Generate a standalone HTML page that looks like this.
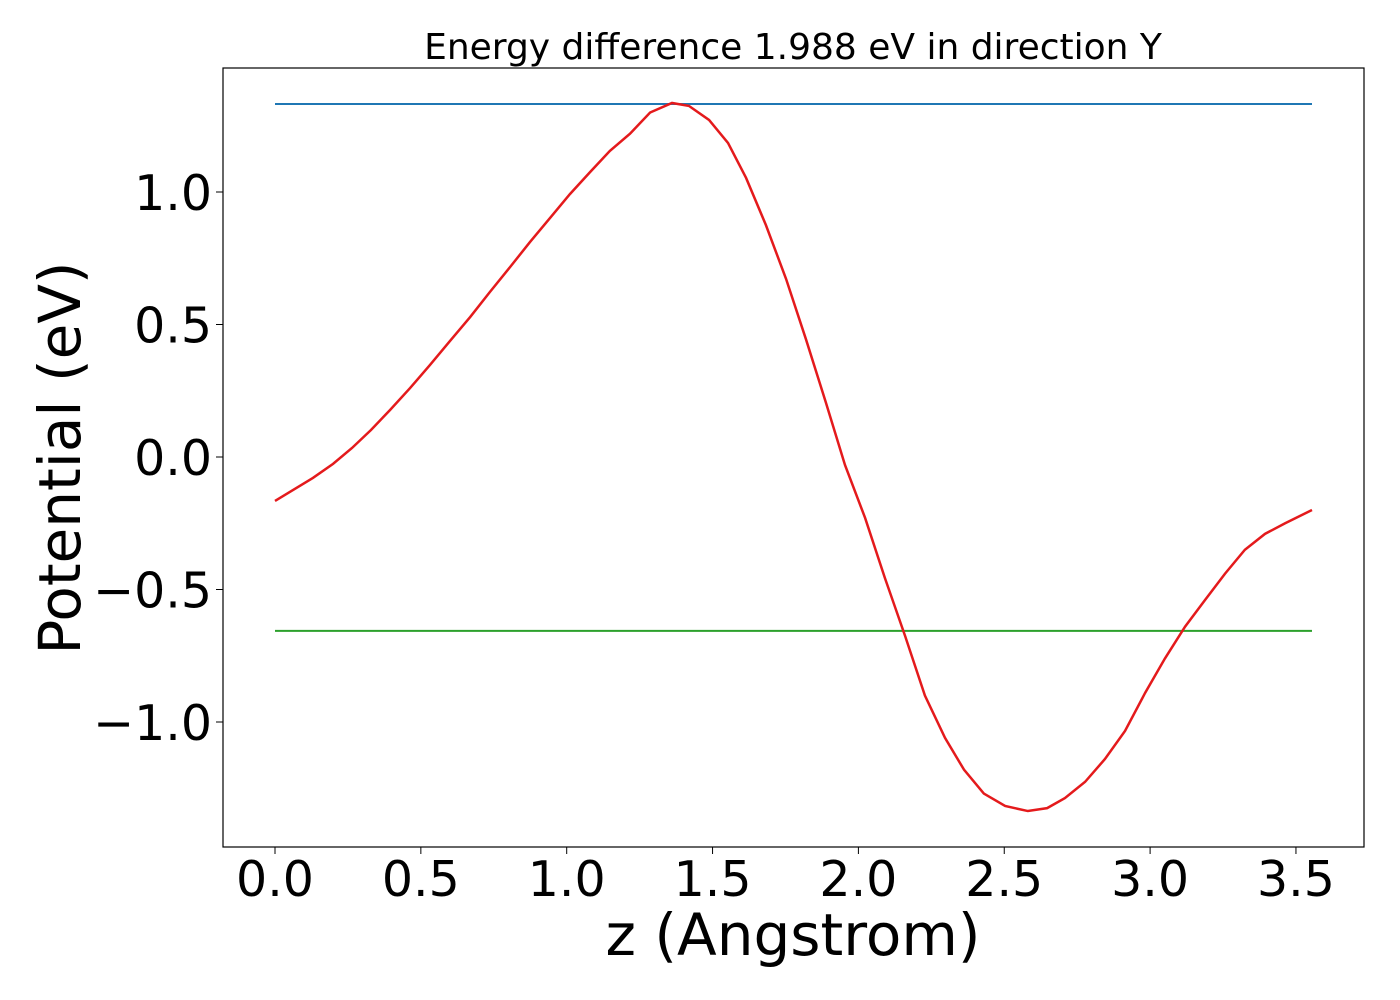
<!DOCTYPE html>
<html><head><meta charset="utf-8"><style>
body{margin:0;background:#fff;}
svg{display:block;font-family:"DejaVu Sans","Liberation Sans",sans-serif;}
</style></head><body>
<svg id="chart" width="1400" height="1000">
<text x="793" y="59" font-size="36" text-anchor="middle">Energy difference 1.988 eV in direction Y</text>
<text x="793" y="955" font-size="58" text-anchor="middle">z (Angstrom)</text>
<text transform="translate(80,458) rotate(-90)" font-size="58" text-anchor="middle">Potential (eV)</text>
<g id="ticks"></g>
<g id="marks"></g>
<rect x="223" y="68" width="1141" height="779" fill="none" stroke="#000" stroke-width="1.2"/>
</svg>
<script>
const xTicks=[0,0.5,1,1.5,2,2.5,3,3.5];
const xTickLabels=["0.0","0.5","1.0","1.5","2.0","2.5","3.0","3.5"];
const yTicks=[1,0.5,0,-0.5,-1];
const yTickLabels=["1.0","0.5","0.0","\u22120.5","\u22121.0"];
const zValues=[0,0.130,0.199,0.264,0.329,0.394,0.463,0.531,0.600,0.669,0.737,0.806,0.874,0.943,1.011,1.080,1.148,1.217,1.286,1.361,1.419,1.488,1.553,1.615,1.683,1.752,1.820,1.889,1.954,2.023,2.091,2.160,2.228,2.297,2.362,2.430,2.503,2.581,2.647,2.708,2.777,2.845,2.914,2.983,3.051,3.120,3.188,3.257,3.325,3.394,3.463,3.555];
const potential=[-0.166,-0.079,-0.026,0.034,0.102,0.177,0.260,0.347,0.438,0.528,0.623,0.717,0.811,0.902,0.992,1.075,1.155,1.22,1.30,1.336,1.325,1.272,1.185,1.053,0.875,0.672,0.445,0.204,-0.03,-0.23,-0.457,-0.675,-0.90,-1.06,-1.18,-1.27,-1.317,-1.336,-1.325,-1.287,-1.226,-1.140,-1.034,-0.89,-0.76,-0.64,-0.54,-0.44,-0.35,-0.29,-0.25,-0.20];
const maxLevel=[1.332];
const minLevel=[-0.656];
const xRange=[0,3.555];
const X=z=>275+z*291.7;
const Y=v=>457-v*265;
const NS="http://www.w3.org/2000/svg";
const ticks=document.getElementById('ticks'),marks=document.getElementById('marks');
xTicks.forEach((t,i)=>{
 const l=document.createElementNS(NS,'line');
 l.setAttribute('x1',X(t));l.setAttribute('x2',X(t));l.setAttribute('y1',847);l.setAttribute('y2',854);l.setAttribute('stroke','#000');
 
 
 ticks.appendChild(l);
 const tx=document.createElementNS(NS,'text');
 tx.setAttribute('x',X(t));tx.setAttribute('y',896);tx.setAttribute('font-size','49');tx.setAttribute('text-anchor','middle');
 tx.textContent=xTickLabels[i];
 
 
 ticks.appendChild(tx);
});
yTicks.forEach((t,i)=>{
 const l=document.createElementNS(NS,'line');
 l.setAttribute('x1',216);l.setAttribute('x2',223);l.setAttribute('y1',Y(t));l.setAttribute('y2',Y(t));l.setAttribute('stroke','#000');
 
 
 ticks.appendChild(l);
 const tx=document.createElementNS(NS,'text');
 tx.setAttribute('x',212);tx.setAttribute('y',Y(t)+18);tx.setAttribute('font-size','49');tx.setAttribute('text-anchor','end');
 tx.textContent=yTickLabels[i];
 
 
 ticks.appendChild(tx);
});
function hline(v,color,name){
 const l=document.createElementNS(NS,'line');
 l.setAttribute('x1',X(xRange[0]));l.setAttribute('x2',X(xRange[1]));l.setAttribute('y1',Y(v));l.setAttribute('y2',Y(v));
 l.setAttribute('stroke',color);l.setAttribute('stroke-width','2');
 
 
 marks.appendChild(l);
}
hline(maxLevel[0],'#1f77b4','max-potential-line');
hline(minLevel[0],'#2ca02c','min-potential-line');
const p=document.createElementNS(NS,'polyline');
p.setAttribute('points',zValues.map((z,i)=>X(z)+','+Y(potential[i])).join(' '));
p.setAttribute('fill','none');p.setAttribute('stroke','#e41a1c');p.setAttribute('stroke-width','2.5');


marks.appendChild(p);
</script>
</body></html>
